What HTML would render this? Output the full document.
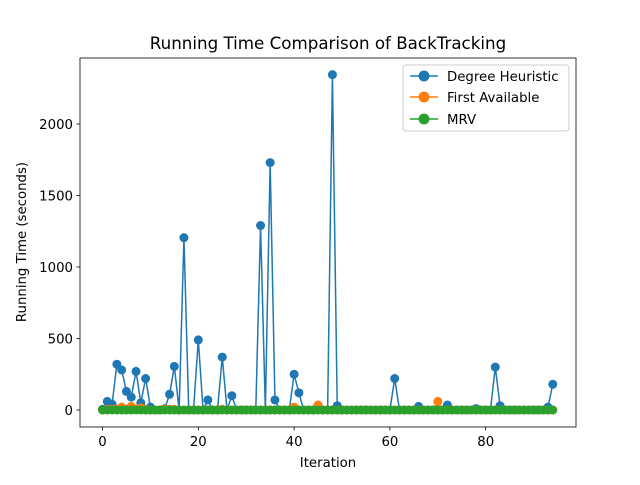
<!DOCTYPE html>
<html><head><meta charset="utf-8"><style>body{margin:0;background:#fff}svg{font-family:"DejaVu Sans","Liberation Sans",sans-serif}</style></head>
<body>
<svg id="chart" width="640" height="480">
<rect width="640" height="480" fill="#fff"/>
<text x="328" y="49" font-size="16.7" text-anchor="middle">Running Time Comparison of BackTracking</text>
<g id="plot"></g>
<rect x="80" y="58" width="496" height="369" fill="none" stroke="#000" stroke-width="0.8"/>
<text x="328" y="467" font-size="13.3" text-anchor="middle">Iteration</text>
<text transform="translate(26,242) rotate(-90)" font-size="13.3" text-anchor="middle">Running Time (seconds)</text>
<g>
<rect x="403" y="65" width="166" height="66" rx="3" fill="#fff" stroke="#ccc"/>
<line x1="410" y1="76" x2="438" y2="76" stroke="#1f77b4" stroke-width="1.5"/><circle cx="424" cy="76" r="5.5" fill="#1f77b4"/>
<text x="447" y="81" font-size="13.3">Degree Heuristic</text>
<line x1="410" y1="97" x2="438" y2="97" stroke="#ff7f0e" stroke-width="1.5"/><circle cx="424" cy="97" r="5.5" fill="#ff7f0e"/>
<text x="447" y="102" font-size="13.3">First Available</text>
<line x1="410" y1="119" x2="438" y2="119" stroke="#2ca02c" stroke-width="1.5"/><circle cx="424" cy="119" r="5.5" fill="#2ca02c"/>
<text x="447" y="124" font-size="13.3">MRV</text>
</g>
</svg>
<script>
const xTicks=[0,20,40,60,80];
const yTicks=[0,500,1000,1500,2000];
const degree=[5,60,40,320,280,130,90,270,50,220,20,0,0,10,110,305,0,1205,0,0,490,0,70,0,0,370,0,100,0,0,0,0,0,1290,0,1730,70,0,0,0,250,120,0,0,0,30,0,0,2345,30,0,0,0,0,0,0,0,0,0,0,0,220,0,0,0,0,25,0,0,0,0,0,35,0,0,0,0,0,10,0,0,0,300,30,0,0,0,0,0,0,0,0,0,20,180];
const firstAvail=[0,5,5,5,20,5,25,5,15,5,0,0,0,5,5,5,0,0,0,0,0,0,0,0,0,5,0,0,0,0,0,0,0,0,0,0,0,0,0,0,20,0,0,0,0,35,0,0,0,0,0,0,0,0,0,0,0,0,0,0,0,0,0,0,0,0,0,0,0,0,60,0,0,0,0,0,0,0,0,0,0,0,0,0,0,0,0,0,0,0,0,0,0,0,0];
const mrv=new Array(95).fill(0);
const xs=i=>102.5+i*4.79;
const ys=v=>410-v*0.143;
const NS="http://www.w3.org/2000/svg";
const svg=document.getElementById('chart');
const plot=document.getElementById('plot');
function mk(t,a,p){const e=document.createElementNS(NS,t);for(const k in a)e.setAttribute(k,a[k]);(p||svg).appendChild(e);return e;}
xTicks.forEach(t=>{const x=xs(t);
const tk=mk('line',{x1:x,x2:x,y1:427,y2:430.5,stroke:'#000','stroke-width':0.8});


const l=mk('text',{x:x,y:446,'font-size':13.3,'text-anchor':'middle'});l.textContent=t;

});
yTicks.forEach(t=>{const y=ys(t);
const tk=mk('line',{x1:76.5,x2:80,y1:y,y2:y,stroke:'#000','stroke-width':0.8});


const l=mk('text',{x:73,y:y+5,'font-size':13.3,'text-anchor':'end'});l.textContent=t;

});
function series(data,color,name){
const g=mk('g',{},plot);


mk('polyline',{points:data.map((v,i)=>xs(i)+','+ys(v)).join(' '),fill:'none',stroke:color,'stroke-width':1.5},g);
data.forEach((v,i)=>{const c=mk('circle',{cx:xs(i),cy:ys(v),r:4.5,fill:color},g);

});}
series(degree,'#1f77b4','degree-heuristic-series');
series(firstAvail,'#ff7f0e','first-available-series');
series(mrv,'#2ca02c','mrv-series');
</script>
</body></html>
